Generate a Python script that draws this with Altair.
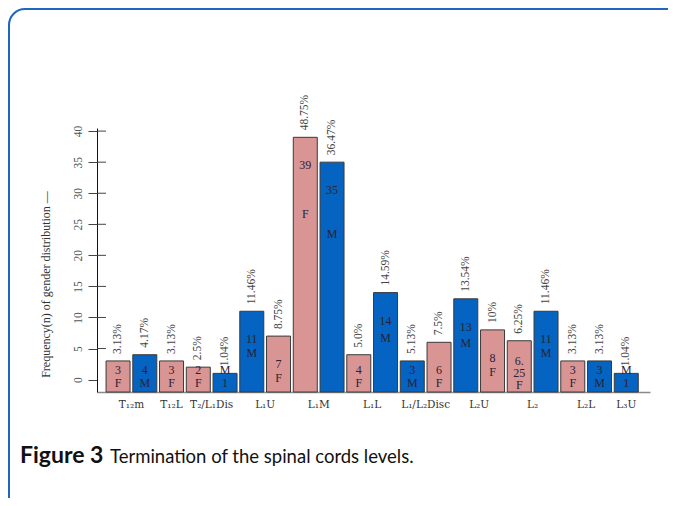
import altair as alt
import pandas as pd

# ---- data ----
levels = ["T₁₂m", "T₁₂m", "T₁₂L", "T₂/L₁Dis", "T₂/L₁Dis", "L₁U", "L₁U", "L₁M", "L₁M",
          "L₁L", "L₁L", "L₁/L₂Disc", "L₁/L₂Disc", "L₂U", "L₂U", "L₂", "L₂", "L₂L", "L₂L", "L₃U"]
sexes = ["F", "M", "F", "F", "M", "M", "F", "F", "M", "F", "M", "M", "F", "M", "F", "F", "M", "F", "M", "M"]
counts = [3, 4, 3, 2, 1, 11, 7, 39, 35, 4, 14, 3, 6, 13, 8, 6.25, 11, 3, 3, 1]
count_text = ["3", "4", "3", "2", "1", "11", "7", "39", "35", "4", "14", "3", "6", "13", "8",
              "6.\n25", "11", "3", "3", "1"]
percents = ["3.13%", "4.17%", "3.13%", "2.5%", "1.04%", "11.46%", "8.75%", "48.75%", "36.47%",
            "5.0%", "14.59%", "5.13%", "7.5%", "13.54%", "10%", "6.25%", "11.46%", "3.13%",
            "3.13%", "1.04%"]
y_ticks = [0, 5, 10, 15, 20, 25, 30, 35, 40]
y_title = "Frequency(n) of gender distribution   —"
caption_bold = "Figure 3"
caption_rest = "Termination of the spinal cords levels."

PINK = "#d99594"
BLUE = "#0563c1"
SERIF = "Liberation Serif"

df = pd.DataFrame({
    "idx": list(range(len(counts))),
    "level": levels,
    "sex": sexes,
    "count": counts,
    "num_text": count_text,
    "pct": percents,
})
ticks_df = pd.DataFrame({"v": y_ticks})
one = pd.DataFrame({"a": [0]})

W, H = 553, 264
xscale = alt.Scale(domain=[-0.6, 19.7], nice=False, zero=False)
yscale = alt.Scale(domain=[-2, 40.5], nice=False, zero=False)

xaxis = alt.Axis(labels=False, ticks=False, title=None, grid=False,
                 domainColor="#8a8a8a", domainWidth=1.5)
yaxis = alt.Axis(values=y_ticks, labelAngle=270, labelFont=SERIF, labelFontSize=11.5,
                 labelColor="#555555", labelPadding=5, labelOverlap=False,
                 labelFlush=False, labelBound=False, tickSize=9, tickColor="#444444",
                 domainColor="#111111", grid=False,
                 title=y_title, titleFont=SERIF, titleFontSize=12,
                 titleFontWeight="normal", titleColor="#333333", titleAngle=270,
                 titleX=-52, titleY=156, titleAlign="center", titleBaseline="middle")


def X(field):
    return alt.X(field, scale=xscale, axis=xaxis)


def Y(field):
    return alt.Y(field, scale=yscale, axis=yaxis)


base = alt.Chart(df)

bars = base.mark_bar(size=24, stroke="#3a3a3a", strokeWidth=1).encode(
    x=X("idx:Q"),
    y=Y("count:Q"),
    y2=alt.datum(-2),
    color=alt.Color("sex:N", scale=alt.Scale(domain=["F", "M"], range=[PINK, BLUE]), legend=None),
)

inner_ticks = alt.Chart(ticks_df).transform_filter("datum.v > 0").mark_rule(
    color="#444444", strokeWidth=1
).encode(y=Y("v:Q"), x=alt.value(0), x2=alt.value(9))

pct_labels = base.mark_text(angle=270, align="left", baseline="middle", dx=7,
                            font=SERIF, fontSize=11.5, color="#444444").encode(
    x=X("idx:Q"), y=Y("count:Q"), text="pct:N")

calc = base.transform_calculate(
    multi="indexof(datum.num_text, '\\n') >= 0",
).transform_calculate(
    num_y="datum.multi ? 3.05 : (datum.count < 2 ? -0.6 : max(1.6, datum.count - 4.5))",
).transform_calculate(
    let_y="datum.multi ? -0.8 : (datum.count < 2 ? 1.6 : datum.num_y - max(2.2, datum.count * 0.2))",
)

num_labels = calc.mark_text(font=SERIF, fontSize=12, color="#2b2233", baseline="middle",
                            lineBreak="\n", lineHeight=12).encode(
    x=X("idx:Q"), y=Y("num_y:Q"), text="num_text:N")

sex_labels = calc.mark_text(font=SERIF, fontSize=12, color="#2b2233", baseline="middle").encode(
    x=X("idx:Q"), y=Y("let_y:Q"), text="sex:N")

group_labels = base.transform_aggregate(cx="mean(idx)", groupby=["level"]).mark_text(
    font="DejaVu Serif", fontSize=10.5, color="#333333", baseline="middle").encode(
    x=X("cx:Q"), y=alt.value(H + 13), text="level:N")

border = alt.Chart(one).mark_rect(cornerRadius=16, fillOpacity=0, stroke="#1f66c1",
                                  strokeWidth=2).encode(
    x=alt.value(-88), x2=alt.value(640), y=alt.value(-119), y2=alt.value(420))

cap1 = alt.Chart(one).transform_calculate(t=f"'{caption_bold}'").mark_text(
    font="Lato", fontSize=23, fontWeight="bold", color="#111111", align="left",
    baseline="alphabetic").encode(x=alt.value(-77), y=alt.value(335), text="t:N")
cap2 = alt.Chart(one).transform_calculate(t=f"'{caption_rest}'").mark_text(
    font="Lato", fontSize=18.5, color="#111111", align="left",
    baseline="alphabetic").encode(x=alt.value(13), y=alt.value(335), text="t:N")

chart = alt.layer(
    border, bars, inner_ticks, pct_labels, num_labels, sex_labels, group_labels, cap1, cap2
).properties(
    width=W, height=H,
    autosize=alt.AutoSizeParams(type="none"),
    padding={"left": 89, "top": 120, "right": 18, "bottom": 106},
    background="white",
).configure_view(stroke=None)

chart.save("out.html", embed_options={"renderer": "svg", "actions": False})
